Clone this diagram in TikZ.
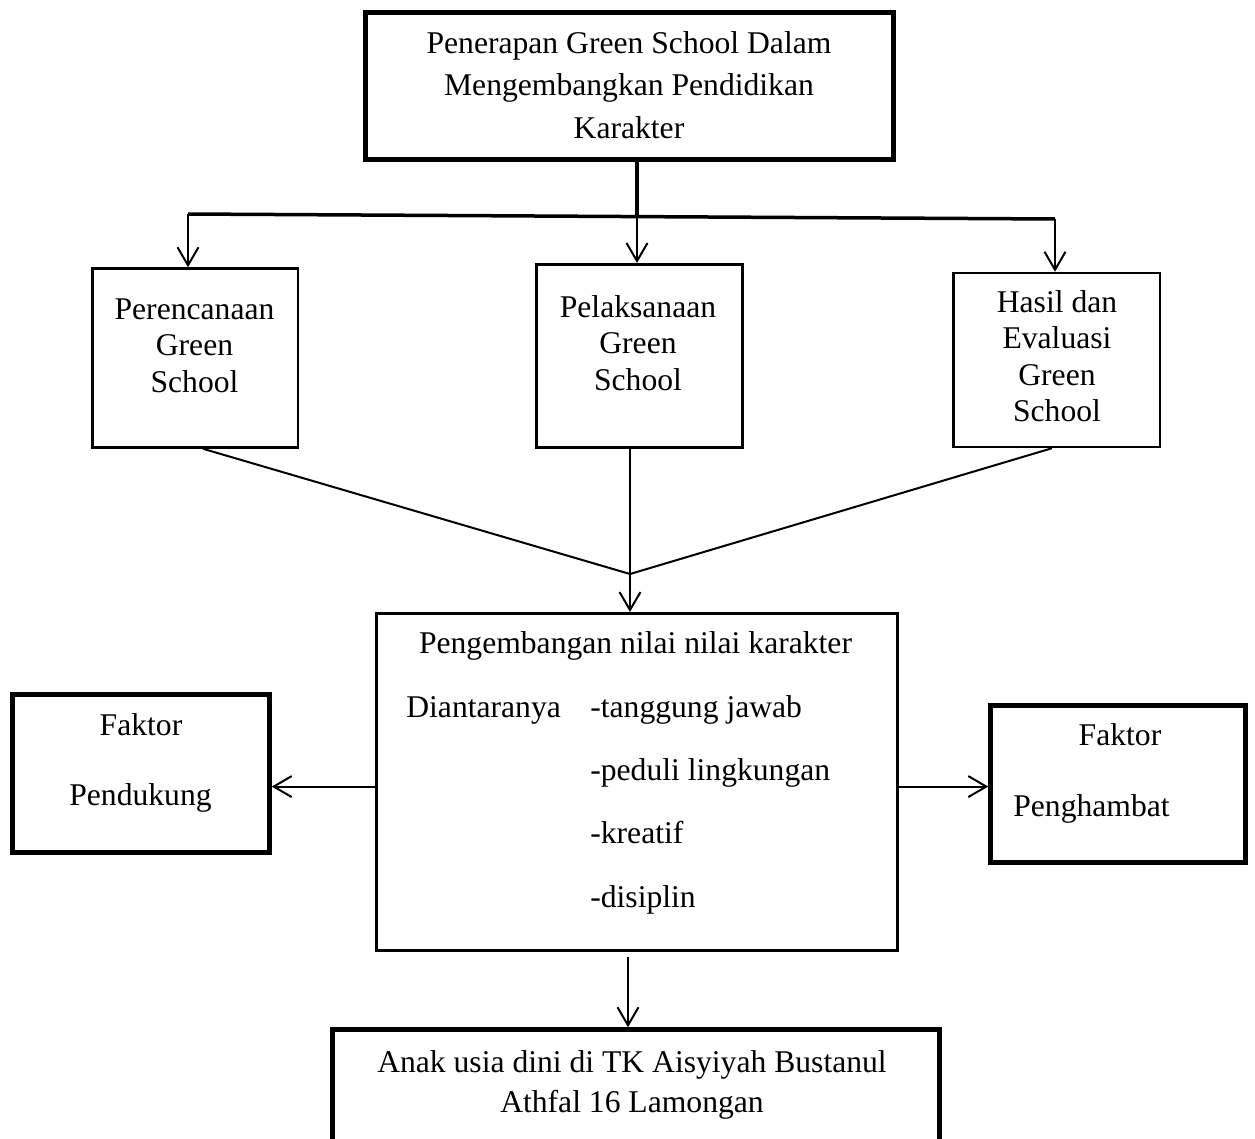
\documentclass[tikz,border=0pt]{standalone}
\usepackage{fontspec}
\setmainfont{Liberation Serif}
\usetikzlibrary{arrows.meta}
\newcommand{\px}{0.02cm}
\newcommand{\teksUkuran}{18}

\tikzset{
  kotakTebal/.style={draw, line width=0.09cm, inner sep=0pt},
  kotakTipis/.style={draw, line width=0.05cm, inner sep=0pt},
  teks/.style={align=center, inner sep=0pt, anchor=base, font=\fontsize{\teksUkuran}{#1}\selectfont},
  teks/.default=20.7,
  garis/.style={line width=0.04cm},
  panah/.style={line width=0.04cm, -{Straight Barb[length=0.36cm,width=0.42cm]}},
}

\begin{document}
\begin{tikzpicture}[x=\px, y=-\px]
\useasboundingbox (0,0) rectangle (1255,1139);

% kotak-kotak
\node[kotakTebal, minimum width=528*\px, minimum height=147*\px] (judul) at (629.5,86) {};
\node[kotakTipis, minimum width=205.5*\px, minimum height=179*\px] (rencana) at (195,358) {};
\node[kotakTipis, minimum width=206*\px, minimum height=183*\px] (laksana) at (639.25,355.75) {};
\node[kotakTipis, minimum width=206.5*\px, minimum height=174*\px] (hasil) at (1056.5,360) {};
\node[kotakTipis, line width=0.06cm, minimum width=521*\px, minimum height=337*\px] (nilai) at (637,782) {};
\node[kotakTebal, minimum width=257*\px, minimum height=158*\px] (dukung) at (141,773.5) {};
\node[kotakTebal, minimum width=255*\px, minimum height=157*\px] (hambat) at (1118,784) {};
\node[kotakTebal, minimum width=607*\px, minimum height=131*\px] (anak) at (636,1095) {};

% teks (baris terakhir jadi patokan)
\node[teks=24] (judulTeks) at (629,138) {Penerapan Green School Dalam\\Mengembangkan Pendidikan\\Karakter};
\node[teks] (rencanaTeks) at (194.5,392) {Perencanaan\\Green\\School};
\node[teks] (laksanaTeks) at (638,390) {Pelaksanaan\\Green\\School};
\node[teks] (hasilTeks) at (1057,421.5) {Hasil dan\\Evaluasi\\Green\\School};
\node[teks] (nilaiJudul) at (635.5,653) {Pengembangan nilai nilai karakter};
\node[teks, anchor=base west] (diantara) at (406,717) {Diantaranya};
\node[teks, anchor=base west] (nilaiA) at (590,717) {-tanggung jawab};
\node[teks, anchor=base west] (nilaiB) at (590,780) {-peduli lingkungan};
\node[teks, anchor=base west] (nilaiC) at (590,843) {-kreatif};
\node[teks, anchor=base west] (nilaiD) at (590,907) {-disiplin};
\node[teks] (dukungA) at (141,735) {Faktor};
\node[teks] (dukungB) at (140.5,805) {Pendukung};
\node[teks] (hambatA) at (1120,745) {Faktor};
\node[teks, anchor=base west] (hambatB) at (1013,816) {Penghambat};
\node[teks=22.7] (anakTeks) at (632,1112) {Anak usia dini di TK Aisyiyah Bustanul\\Athfal 16 Lamongan};

% percabangan atas
\coordinate (atas) at (637,216);
\coordinate (kiri) at (188,214);
\coordinate (kanan) at (1055,219);
\draw[line width=0.08cm] (atas |- judul.south) -- (atas);
\draw[line width=0.07cm] (kiri) -- (kanan);
\draw[panah] (kiri) -- (kiri |- rencana.north);
\draw[panah] (atas) -- (atas |- laksana.north);
\draw[panah] (kanan) -- (kanan |- hasil.north);

% pertemuan
\coordinate (temu) at (630,574);
\draw[garis] (rencana.-85) -- (temu);
\draw[garis] (laksana.south -| temu) -- (temu);
\draw[garis] (hasil.-93) -- (temu);
\draw[panah] (temu) -- (temu |- nilai.north);

\draw[panah] (nilai.181) -- (nilai.181 -| dukung.east);
\draw[panah] (nilai.-1) -- (nilai.-1 -| hambat.west);
\coordinate (bawah) at (628,957);
\draw[panah] (bawah) -- (bawah |- anak.north);
\end{tikzpicture}
\end{document}
